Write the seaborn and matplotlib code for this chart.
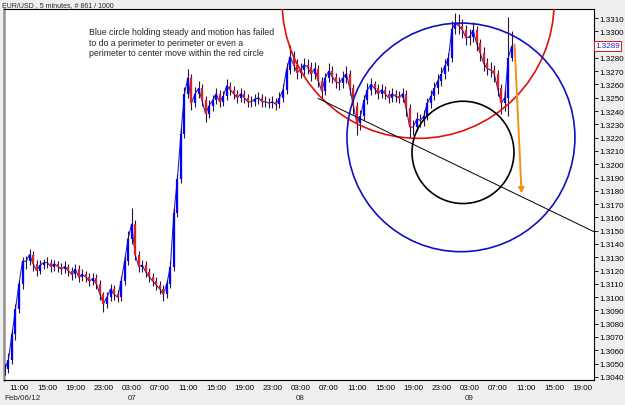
import numpy as np
import pandas as pd
import matplotlib
matplotlib.use("Agg")
import matplotlib.pyplot as plt
from matplotlib.patches import Ellipse
import seaborn as sns

sns.set_theme(style="white")
plt.rcParams['font.family'] = ['Liberation Sans', 'DejaVu Sans']

# hours since Feb/06/12 00:00, one sample per half hour
hours = np.arange(9.0, 81.01, 0.5)
close = [1.3046, 1.3053, 1.3072, 1.3091, 1.3110, 1.3127, 1.3127, 1.3132, 1.3125, 1.3120,
         1.3124, 1.3126, 1.3126, 1.3123, 1.3125, 1.3123, 1.3121, 1.3123, 1.3120, 1.3117,
         1.3121, 1.3115, 1.3117, 1.3115, 1.3112, 1.3114, 1.3110, 1.3102, 1.3095, 1.3100,
         1.3106, 1.3102, 1.3100, 1.3112, 1.3127, 1.3144, 1.3155, 1.3132, 1.3123, 1.3124,
         1.3119, 1.3115, 1.3112, 1.3109, 1.3106, 1.3102, 1.3110, 1.3123, 1.3163, 1.3189,
         1.3223, 1.3253, 1.3265, 1.3246, 1.3253, 1.3257, 1.3248, 1.3238, 1.3244, 1.3248,
         1.3253, 1.3247, 1.3251, 1.3259, 1.3256, 1.3253, 1.3250, 1.3253, 1.3250, 1.3247,
         1.3247, 1.3249, 1.3250, 1.3247, 1.3247, 1.3246, 1.3247, 1.3245, 1.3250, 1.3256,
         1.3271, 1.3281, 1.3275, 1.3269, 1.3271, 1.3275, 1.3273, 1.3268, 1.3272, 1.3263,
         1.3255, 1.3265, 1.3270, 1.3266, 1.3262, 1.3261, 1.3265, 1.3268, 1.3257, 1.3244,
         1.3231, 1.3236, 1.3248, 1.3256, 1.3260, 1.3257, 1.3253, 1.3256, 1.3253, 1.3250,
         1.3253, 1.3251, 1.3250, 1.3253, 1.3242, 1.3228, 1.3228, 1.3234, 1.3233, 1.3236,
         1.3246, 1.3251, 1.3257, 1.3263, 1.3268, 1.3274, 1.3280, 1.3302, 1.3306, 1.3304,
         1.3301, 1.3295, 1.3296, 1.3301, 1.3291, 1.3284, 1.3276, 1.3272, 1.3271, 1.3268,
         1.3257, 1.3246, 1.3250, 1.3280, 1.3289]
high = [1.3050, 1.3058, 1.3075, 1.3095, 1.3113, 1.3130, 1.3131, 1.3136, 1.3135, 1.3128,
        1.3128, 1.3129, 1.3130, 1.3129, 1.3128, 1.3127, 1.3126, 1.3127, 1.3125, 1.3123,
        1.3125, 1.3124, 1.3121, 1.3120, 1.3118, 1.3118, 1.3117, 1.3113, 1.3104, 1.3104,
        1.3110, 1.3109, 1.3105, 1.3116, 1.3131, 1.3150, 1.3167, 1.3158, 1.3135, 1.3128,
        1.3127, 1.3122, 1.3118, 1.3115, 1.3112, 1.3109, 1.3113, 1.3127, 1.3167, 1.3193,
        1.3227, 1.3258, 1.3272, 1.3268, 1.3258, 1.3263, 1.3260, 1.3251, 1.3248, 1.3252,
        1.3257, 1.3256, 1.3255, 1.3264, 1.3262, 1.3259, 1.3256, 1.3257, 1.3256, 1.3253,
        1.3251, 1.3253, 1.3254, 1.3253, 1.3251, 1.3250, 1.3251, 1.3250, 1.3254, 1.3260,
        1.3276, 1.3290, 1.3285, 1.3279, 1.3276, 1.3280, 1.3279, 1.3277, 1.3277, 1.3275,
        1.3266, 1.3269, 1.3276, 1.3274, 1.3269, 1.3266, 1.3270, 1.3274, 1.3271, 1.3260,
        1.3247, 1.3241, 1.3252, 1.3261, 1.3265, 1.3263, 1.3260, 1.3260, 1.3259, 1.3256,
        1.3257, 1.3256, 1.3255, 1.3257, 1.3256, 1.3245, 1.3233, 1.3239, 1.3238, 1.3241,
        1.3250, 1.3256, 1.3262, 1.3268, 1.3273, 1.3279, 1.3284, 1.3308, 1.3314, 1.3313,
        1.3309, 1.3305, 1.3302, 1.3307, 1.3304, 1.3294, 1.3288, 1.3280, 1.3277, 1.3275,
        1.3271, 1.3260, 1.3256, 1.3311, 1.3300]
low = [1.3041, 1.3043, 1.3050, 1.3068, 1.3088, 1.3106, 1.3121, 1.3124, 1.3120, 1.3116,
       1.3117, 1.3121, 1.3122, 1.3119, 1.3120, 1.3119, 1.3117, 1.3118, 1.3116, 1.3113,
       1.3114, 1.3111, 1.3112, 1.3111, 1.3108, 1.3109, 1.3106, 1.3098, 1.3089, 1.3092,
       1.3097, 1.3098, 1.3096, 1.3097, 1.3109, 1.3124, 1.3140, 1.3128, 1.3119, 1.3119,
       1.3115, 1.3111, 1.3108, 1.3105, 1.3102, 1.3097, 1.3099, 1.3107, 1.3120, 1.3160,
       1.3186, 1.3220, 1.3250, 1.3241, 1.3243, 1.3250, 1.3244, 1.3232, 1.3235, 1.3240,
       1.3245, 1.3243, 1.3244, 1.3248, 1.3252, 1.3249, 1.3246, 1.3247, 1.3246, 1.3243,
       1.3243, 1.3244, 1.3245, 1.3243, 1.3243, 1.3242, 1.3242, 1.3241, 1.3242, 1.3247,
       1.3253, 1.3268, 1.3270, 1.3264, 1.3265, 1.3267, 1.3268, 1.3263, 1.3264, 1.3258,
       1.3249, 1.3252, 1.3262, 1.3261, 1.3257, 1.3256, 1.3257, 1.3261, 1.3252, 1.3238,
       1.3222, 1.3226, 1.3233, 1.3245, 1.3252, 1.3253, 1.3249, 1.3250, 1.3249, 1.3246,
       1.3247, 1.3247, 1.3246, 1.3247, 1.3236, 1.3220, 1.3222, 1.3225, 1.3228, 1.3229,
       1.3233, 1.3242, 1.3248, 1.3253, 1.3259, 1.3264, 1.3270, 1.3277, 1.3298, 1.3298,
       1.3295, 1.3290, 1.3290, 1.3292, 1.3285, 1.3278, 1.3270, 1.3267, 1.3266, 1.3262,
       1.3251, 1.3238, 1.3240, 1.3236, 1.3278]

price_ticks = [1.3040, 1.3050, 1.3060, 1.3070, 1.3080, 1.3090, 1.3100, 1.3110, 1.3120,
               1.3130, 1.3140, 1.3150, 1.3160, 1.3170, 1.3180, 1.3190, 1.3200, 1.3210,
               1.3220, 1.3230, 1.3240, 1.3250, 1.3260, 1.3270, 1.3280, 1.3300, 1.3310]
current_price = 1.3289
time_ticks = [11, 15, 19, 23, 27, 31, 35, 39, 43, 47, 51, 55, 59, 63, 67, 71, 75, 79, 83, 87, 91]
time_labels = ["11:00", "15:00", "19:00", "23:00", "03:00", "07:00", "11:00", "15:00", "19:00",
               "23:00", "03:00", "07:00", "11:00", "15:00", "19:00", "23:00", "03:00", "07:00",
               "11:00", "15:00", "19:00"]
date_ticks = [27, 51, 75]
date_labels = ["07", "08", "09"]

# annotation shapes (hours, price)
red_circle = dict(h=67.7, p=1.33221, rh=19.32, rp=0.010264)
blue_circle = dict(h=73.78, p=1.32202, rh=16.19, rp=0.008604)
black_circle = dict(h=74.07, p=1.32089, rh=7.24, rp=0.003849)
trend_line = dict(h=[53.47, 92.68], p=[1.32496, 1.31492])
arrow = dict(h0=81.38, p0=1.32923, h1=82.41, p1=1.31759)
note = ("Blue circle holding steady and motion has failed\n"
        "to do a perimeter to perimeter or even a\n"
        "perimeter to center move within the red circle")

df = pd.DataFrame({"hour": hours, "close": close, "high": high, "low": low})
df["open"] = df["close"].shift(1).fillna(df["close"])

fig = plt.figure(figsize=(6.25, 4.06), dpi=100, facecolor="#efefef")
ax = fig.add_axes([0.0064, 0.0616, 0.9440, 0.9150])
ax.set_facecolor("white")

sns.lineplot(data=df, x="hour", y="close", ax=ax, color="#2a2ab0", lw=0.8)
ax.vlines(df["hour"], df["low"], df["high"], color="#301040", lw=0.8, zorder=3)
up = df["close"] >= df["open"]
ax.vlines(df["hour"][up], df["open"][up], df["close"][up], color="#0000ff", lw=1.6, zorder=4)
ax.vlines(df["hour"][~up], df["open"][~up], df["close"][~up], color="#e02020", lw=1.6, zorder=4)

ax.set_xlim(8.87, 92.68)
ax.set_ylim(1.30376, 1.33172)

for c, col in [(red_circle, "#dd1111"), (blue_circle, "#1010c0"), (black_circle, "black")]:
    ax.add_patch(Ellipse((c["h"], c["p"]), 2 * c["rh"], 2 * c["rp"], fill=False,
                         edgecolor=col, lw=1.2, zorder=5, clip_on=True))
ax.plot(trend_line["h"], trend_line["p"], color="black", lw=0.7, zorder=5)
ax.annotate("", xy=(arrow["h1"], arrow["p1"]), xytext=(arrow["h0"], arrow["p0"]),
            arrowprops=dict(arrowstyle="-|>", color="#f0901a", lw=1.4, mutation_scale=8),
            zorder=6)
ax.text(20.9, 1.33030, note, fontsize=6.3, va="top", ha="left", linespacing=1.2)

ax.yaxis.tick_right()
ax.set_yticks(price_ticks)
ax.set_yticklabels([f"{v:.4f}" for v in price_ticks])
ax.set_xticks(time_ticks)
ax.set_xticklabels(time_labels)
ax.tick_params(axis="y", which="both", right=True, length=3, width=0.6, labelsize=5.8,
               pad=1, colors="black")
ax.tick_params(axis="x", length=2, width=0.5, labelsize=5.8, pad=3, direction="in", colors="#777777",
               labelcolor="black")
ax.set_xlabel("")
ax.set_ylabel("")
for s in ["top", "right", "bottom"]:
    ax.spines[s].set_color("black")
    ax.spines[s].set_linewidth(0.8)
ax.spines["left"].set_color("#909090")
ax.spines["left"].set_linewidth(1.8)

ax.text(1.002, current_price, f"{current_price:.4f}", transform=ax.get_yaxis_transform(),
        fontsize=5.8, color="#2020c0", va="center", ha="left",
        bbox=dict(boxstyle="square,pad=0.15", fc="white", ec="#dd1111", lw=0.7))

for t, lab in zip(date_ticks, date_labels):
    ax.text(t, -0.037, lab, transform=ax.get_xaxis_transform(), fontsize=5.8, ha="center", va="top")
ax.text(0.0, -0.037, "Feb/06/12", transform=ax.transAxes, fontsize=5.8, ha="left", va="top")
fig.text(0.004, 0.994, "EUR/USD , 5 minutes, # 861 / 1000", fontsize=5.0, ha="left", va="top")

fig.savefig("out.png", dpi=100, facecolor=fig.get_facecolor())
